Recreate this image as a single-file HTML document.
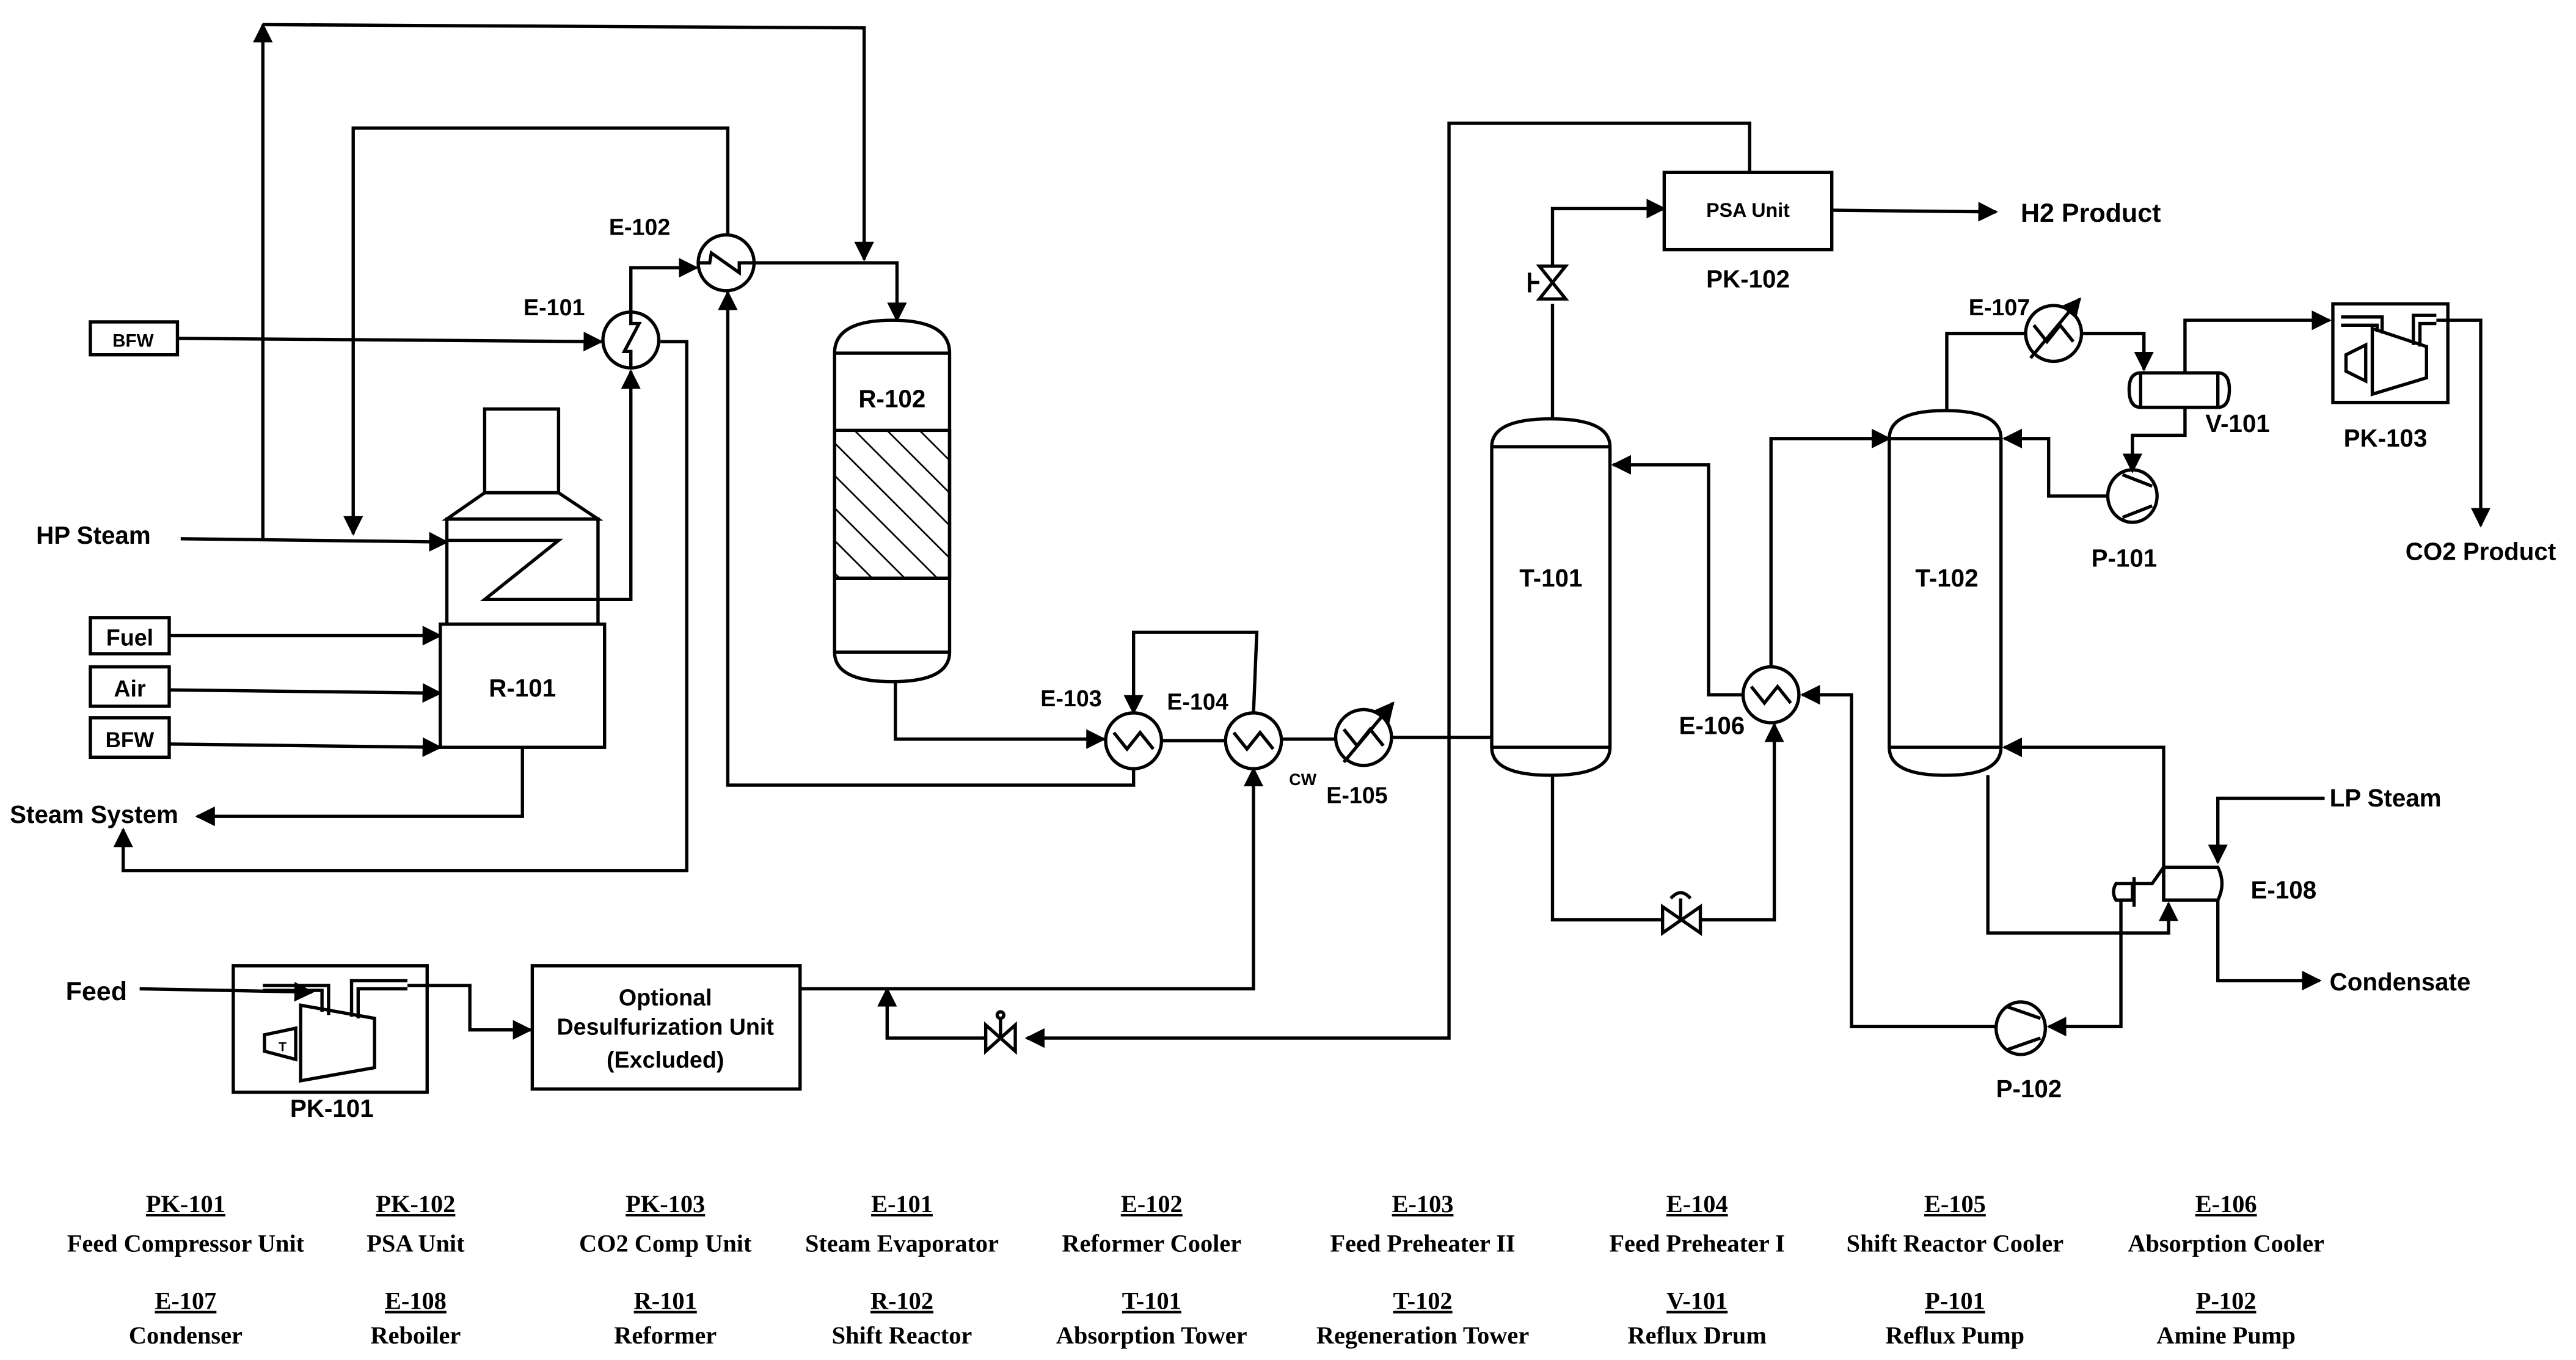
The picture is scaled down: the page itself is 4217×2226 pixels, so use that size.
<!DOCTYPE html>
<html><head><meta charset="utf-8"><style>
html,body{margin:0;padding:0;background:#fff;}
svg{display:block;}
text{font-family:"Liberation Sans",sans-serif;font-weight:bold;fill:#000;}
.s text{font-family:"Liberation Serif",serif;}
</style></head><body>
<svg width="4217" height="2226" viewBox="0 0 1568 828" preserveAspectRatio="none">
<defs>
<marker id="a" viewBox="0 0 10 10" refX="9" refY="5" markerWidth="6" markerHeight="6" orient="auto"><path d="M0,0L10,5L0,10z" fill="#000"/></marker>
<pattern id="h" width="14" height="14" patternUnits="userSpaceOnUse" patternTransform="rotate(-45)"><line x1="0" y1="0" x2="0" y2="14" stroke="#000" stroke-width="2"/></pattern>
</defs>
<g fill="none" stroke="#000" stroke-width="2">
<path d="M110,328 L272,330" marker-end="url(#a)"/>
<path d="M160,328 L160,15" marker-end="url(#a)"/>
<path d="M160,15 L526,17 L526,158" marker-end="url(#a)"/>
<path d="M443,143 L443,78 L215,78 L215,325" marker-end="url(#a)"/>
<path d="M460,160 L546,160 L546,195" marker-end="url(#a)"/>
<rect x="55" y="196" width="53" height="20"/>
<path d="M108,206 L366,208" marker-end="url(#a)"/>
<path d="M362,365 L384,365 L384,226" marker-end="url(#a)"/>
<path d="M384,190 L384,163 L424,163" marker-end="url(#a)"/>
<path d="M402,208 L418,208 L418,530 L75,530 L75,505" marker-end="url(#a)"/>
<path d="M690,468 L690,478 L443,478 L443,178" marker-end="url(#a)"/>
<circle cx="384" cy="207" r="17"/><path d="M384,190 L384,197 L389,197 L380,214 L384,214 L384,224"/>
<circle cx="442" cy="160" r="17"/><path d="M425,160 L432,160 L433,154 L450,166 L450,160 L459,160"/>
<rect x="295" y="249" width="45" height="51"/>
<path d="M295,300 L272,316 L364,316 L340,300 Z"/>
<rect x="272" y="316" width="92" height="64"/>
<path d="M272,329 L340,329 L295,365 L362,365"/>
<rect x="268" y="380" width="100" height="75" fill="#fff"/>
<rect x="55" y="376" width="48" height="22"/><rect x="55" y="406" width="48" height="24"/><rect x="55" y="437" width="48" height="24"/>
<path d="M103,387 L268,387" marker-end="url(#a)"/>
<path d="M103,420 L268,422" marker-end="url(#a)"/>
<path d="M103,453 L268,455" marker-end="url(#a)"/>
<path d="M318,455 L318,497 L120,497" marker-end="url(#a)"/>
<path d="M508,215 Q508,195 543,195 Q578,195 578,215 L578,397 Q578,415 543,415 Q508,415 508,397 Z"/>
<line x1="508" y1="215" x2="578" y2="215"/><line x1="508" y1="397" x2="578" y2="397"/>
<rect x="508" y="262" width="70" height="90" fill="url(#h)"/>
<path d="M545,415 L545,450 L672,450" marker-end="url(#a)"/>
<circle cx="690" cy="451" r="17"/><path d="M678,446 L686,456 L694,446 L702,456"/>
<circle cx="763" cy="451" r="17"/><path d="M751,446 L759,456 L767,446 L775,456"/>
<circle cx="830" cy="449" r="17"/><path d="M818,444 L826,454 L834,444 L842,454"/><path d="M818,464 L848,428" marker-end="url(#a)"/>
<path d="M707,451 L746,451"/>
<path d="M763,434 L765,385 L690,385 L690,434" marker-end="url(#a)"/>
<path d="M780,450 L813,450"/>
<path d="M847,449 L908,449"/>
<path d="M487,602 L763,602 L763,468" marker-end="url(#a)"/>
<path d="M908,272 Q908,255 944,255 Q980,255 980,272 L980,455 Q980,472 944,472 Q908,472 908,455 Z"/>
<line x1="908" y1="272" x2="980" y2="272"/><line x1="908" y1="455" x2="980" y2="455"/>
<path d="M945,255 L945,185"/>
<path d="M937,162 L953,162 L937,182 L953,182 Z"/><path d="M937,172 L931,172 M931,166 L931,178"/>
<path d="M945,162 L945,127 L1013,127" marker-end="url(#a)"/>
<rect x="1013" y="105" width="102" height="47"/>
<path d="M1115,128 L1215,129" marker-end="url(#a)"/>
<path d="M1065,105 L1065,75 L882,75 L882,632 L625,632" marker-end="url(#a)"/>
<path d="M600,624 L600,640 L618,624 L618,640 Z"/><line x1="609" y1="632" x2="609" y2="620"/><circle cx="609" cy="618" r="2"/>
<path d="M600,632 L540,632 L540,602" marker-end="url(#a)"/>
<path d="M945,472 L945,560 L1012,560"/>
<path d="M1012,552 L1012,568 L1035,552 L1035,568 Z"/><path d="M1023,560 L1023,547 M1017,547 Q1023,540 1029,547"/>
<path d="M1035,560 L1080,560 L1080,441" marker-end="url(#a)"/>
<circle cx="1078" cy="423" r="17"/><path d="M1066,418 L1074,428 L1082,418 L1090,428"/>
<path d="M1078,406 L1078,267 L1150,267" marker-end="url(#a)"/>
<path d="M1061,423 L1040,423 L1040,283 L982,283" marker-end="url(#a)"/>
<path d="M1150,267 Q1150,250 1184,250 Q1218,250 1218,267 L1218,455 Q1218,472 1184,472 Q1150,472 1150,455 Z"/>
<line x1="1150" y1="267" x2="1218" y2="267"/><line x1="1150" y1="455" x2="1218" y2="455"/>
<path d="M1185,250 L1185,203 L1233,203"/>
<circle cx="1250" cy="203" r="17"/><path d="M1238,198 L1246,208 L1254,198 L1262,208"/><path d="M1236,218 L1266,182" marker-end="url(#a)"/>
<path d="M1267,203 L1305,203 L1305,225" marker-end="url(#a)"/>
<path d="M1303,227 L1350,227 Q1357,227 1357,237 Q1357,248 1350,248 L1303,248 Q1296,248 1296,237 Q1296,227 1303,227 Z"/>
<line x1="1303" y1="227" x2="1303" y2="248"/><line x1="1350" y1="227" x2="1350" y2="248"/>
<path d="M1330,227 L1330,195 L1418,195" marker-end="url(#a)"/>
<path d="M1330,248 L1330,265 L1298,265 L1298,287" marker-end="url(#a)"/>
<ellipse cx="1298" cy="302" rx="15" ry="16"/><path d="M1292,289 L1310,296 M1292,315 L1310,308"/>
<path d="M1283,302 L1247,302 L1247,267 L1220,267" marker-end="url(#a)"/>
<rect x="1420" y="185" width="70" height="60"/>
<path d="M1477,211 L1444,200 L1444,240 L1477,230 Z"/><path d="M1428,216 L1440,210 L1440,232 L1428,226 Z"/>
<path d="M1425,193 L1450,193 L1450,203 M1425,198 L1447,198 L1447,202"/><path d="M1469,210 L1469,192 L1483,192 M1473,211 L1473,197 L1483,197"/>
<path d="M1483,195 L1510,195 L1510,320" marker-end="url(#a)"/>
<path d="M1210,472 L1210,568 L1320,568 L1320,550" marker-end="url(#a)"/>
<path d="M1317,528 L1317,455 L1220,455" marker-end="url(#a)"/>
<path d="M1317,528 L1350,528 Q1355,538 1350,548 L1317,548 Z"/>
<line x1="1317" y1="528" x2="1317" y2="548"/>
<path d="M1317,528 L1310,538 L1299,538 M1299,534 L1299,552"/>
<path d="M1288,538 L1298,538 L1298,548 L1288,548 Q1285,543 1288,538 Z"/>
<path d="M1415,486 L1350,486 L1350,525" marker-end="url(#a)"/>
<path d="M1350,548 L1350,597 L1412,597" marker-end="url(#a)"/>
<path d="M1291,548 L1291,625 L1247,625" marker-end="url(#a)"/>
<ellipse cx="1230" cy="626" rx="15" ry="16"/><path d="M1222,613 L1242,620 M1222,639 L1242,632"/>
<path d="M1215,625 L1127,625 L1127,423 L1097,423" marker-end="url(#a)"/>
<path d="M85,602 L190,604" marker-end="url(#a)"/>
<rect x="142" y="588" width="118" height="77"/>
<path d="M183,612 L228,620 L228,650 L183,658 Z"/><path d="M161,630 L180,626 L180,645 L161,640 Z"/>
<path d="M160,600 L200,600 L200,618 M160,603 L196,603 L196,616"/>
<path d="M214,619 L214,597 L248,597 M218,620 L218,602 L248,602"/>
<path d="M248,600 L286,600 L286,627 L323,627" marker-end="url(#a)"/>
<rect x="324" y="588" width="163" height="75"/>
</g>
<g font-size="14">
<text x="408" y="143" text-anchor="end">E-102</text>
<text x="356" y="192" text-anchor="end">E-101</text>
<text x="81" y="211" text-anchor="middle" font-size="11">BFW</text>
<text x="22" y="331" font-size="15">HP Steam</text>
<text x="79" y="393" text-anchor="middle">Fuel</text>
<text x="79" y="424" text-anchor="middle">Air</text>
<text x="79" y="455" text-anchor="middle" font-size="13">BFW</text>
<text x="318" y="424" text-anchor="middle" font-size="15">R-101</text>
<text x="6" y="501" font-size="15">Steam System</text>
<text x="543" y="248" text-anchor="middle" font-size="15">R-102</text>
<text x="652" y="430" text-anchor="middle">E-103</text>
<text x="729" y="432" text-anchor="middle">E-104</text>
<text x="826" y="489" text-anchor="middle">E-105</text>
<text x="793" y="478" text-anchor="middle" font-size="10" font-weight="normal">CW</text>
<text x="944" y="357" text-anchor="middle" font-size="15">T-101</text>
<text x="1064" y="132" text-anchor="middle" font-size="12">PSA Unit</text>
<text x="1064" y="175" text-anchor="middle" font-size="15">PK-102</text>
<text x="1230" y="135" font-size="16">H2 Product</text>
<text x="1217" y="192" text-anchor="middle">E-107</text>
<text x="1185" y="357" text-anchor="middle" font-size="15">T-102</text>
<text x="1362" y="263" text-anchor="middle" font-size="15">V-101</text>
<text x="1452" y="272" text-anchor="middle" font-size="15">PK-103</text>
<text x="1293" y="345" text-anchor="middle" font-size="15">P-101</text>
<text x="1510" y="341" text-anchor="middle" font-size="15">CO2 Product</text>
<text x="1042" y="447" text-anchor="middle" font-size="15">E-106</text>
<text x="1418" y="491" font-size="15">LP Steam</text>
<text x="1370" y="547" font-size="15">E-108</text>
<text x="1418" y="603" font-size="15">Condensate</text>
<text x="1235" y="668" text-anchor="middle" font-size="15">P-102</text>
<text x="40" y="609" font-size="16">Feed</text>
<text x="202" y="680" text-anchor="middle" font-size="15">PK-101</text>
<text x="405" y="612" text-anchor="middle">Optional</text>
<text x="405" y="630" text-anchor="middle">Desulfurization Unit</text>
<text x="405" y="650" text-anchor="middle">(Excluded)</text>
<text x="172" y="640" text-anchor="middle" font-size="8" font-weight="normal">T</text>
</g>
<g class="s" font-size="15" text-anchor="middle">
<text x="113" y="738" text-decoration="underline">PK-101</text>
<text x="113" y="762">Feed  Compressor Unit</text>
<text x="253" y="738" text-decoration="underline">PK-102</text>
<text x="253" y="762">PSA Unit</text>
<text x="405" y="738" text-decoration="underline">PK-103</text>
<text x="405" y="762">CO2 Comp Unit</text>
<text x="549" y="738" text-decoration="underline">E-101</text>
<text x="549" y="762">Steam Evaporator</text>
<text x="701" y="738" text-decoration="underline">E-102</text>
<text x="701" y="762">Reformer Cooler</text>
<text x="866" y="738" text-decoration="underline">E-103</text>
<text x="866" y="762">Feed Preheater II</text>
<text x="1033" y="738" text-decoration="underline">E-104</text>
<text x="1033" y="762">Feed Preheater I</text>
<text x="1190" y="738" text-decoration="underline">E-105</text>
<text x="1190" y="762">Shift Reactor Cooler</text>
<text x="1355" y="738" text-decoration="underline">E-106</text>
<text x="1355" y="762">Absorption Cooler</text>
<text x="113" y="797" text-decoration="underline">E-107</text>
<text x="113" y="818">Condenser</text>
<text x="253" y="797" text-decoration="underline">E-108</text>
<text x="253" y="818">Reboiler</text>
<text x="405" y="797" text-decoration="underline">R-101</text>
<text x="405" y="818">Reformer</text>
<text x="549" y="797" text-decoration="underline">R-102</text>
<text x="549" y="818">Shift Reactor</text>
<text x="701" y="797" text-decoration="underline">T-101</text>
<text x="701" y="818">Absorption Tower</text>
<text x="866" y="797" text-decoration="underline">T-102</text>
<text x="866" y="818">Regeneration Tower</text>
<text x="1033" y="797" text-decoration="underline">V-101</text>
<text x="1033" y="818">Reflux Drum</text>
<text x="1190" y="797" text-decoration="underline">P-101</text>
<text x="1190" y="818">Reflux Pump</text>
<text x="1355" y="797" text-decoration="underline">P-102</text>
<text x="1355" y="818">Amine Pump</text>
</g>
</svg>
</body></html>
